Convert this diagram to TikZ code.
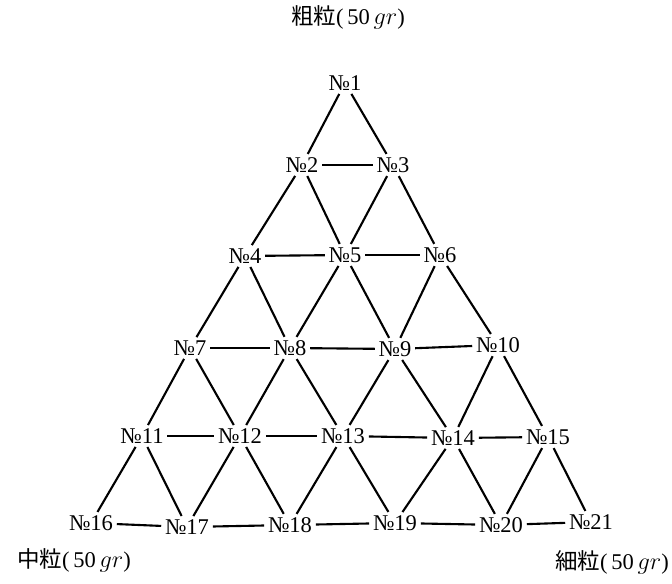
\documentclass[tikz,border=0pt]{standalone}
\usepackage{fontspec}
\setmainfont{Liberation Serif}
\newfontfamily\cjkfont{Noto Sans CJK JP}

\begin{document}
\begin{tikzpicture}[x=0.025cm, y=-0.025cm,
    no/.style={inner sep=1pt, font=\fontsize{16}{16}\selectfont},
    lbl/.style={inner sep=0pt, font=\fontsize{16}{16}\selectfont},
    link/.style={line width=1.5pt, shorten >=1.5pt, shorten <=1.5pt}]
      \useasboundingbox (0,0) rectangle (672,584);

      % titles of the three corners
      \node[lbl] (coarse) at (348,17) {{\cjkfont 粗粒}(\,50\,$gr$)};
      \node[lbl] (medium) at (74,560) {{\cjkfont 中粒}(\,50\,$gr$)};
      \node[lbl] (fine) at (612,562) {{\cjkfont 細粒}(\,50\,$gr$)};

      % mixtures
      \node[no] (n1) at (345,83) {№1};
      \node[no] (n2) at (302,165) {№2};
      \node[no] (n3) at (393,165) {№3};
      \node[no] (n4) at (245,256) {№4};
      \node[no] (n5) at (345,255) {№5};
      \node[no] (n6) at (440,255) {№6};
      \node[no] (n7) at (190,348) {№7};
      \node[no] (n8) at (290,348) {№8};
      \node[no] (n9) at (395,349) {№9};
      \node[no] (n10) at (498,345) {№10};
      \node[no] (n11) at (142,436) {№11};
      \node[no] (n12) at (240,436) {№12};
      \node[no] (n13) at (343,436) {№13};
      \node[no] (n14) at (453,438) {№14};
      \node[no] (n15) at (548,437) {№15};
      \node[no] (n16) at (91,523) {№16};
      \node[no] (n17) at (187,527) {№17};
      \node[no] (n18) at (290,525) {№18};
      \node[no] (n19) at (395,523) {№19};
      \node[no] (n20) at (501,525) {№20};
      \node[no] (n21) at (591,522) {№21};

      % horizontal links
      \foreach \a/\b in {2/3, 4/5, 5/6, 7/8, 8/9, 9/10, 11/12, 12/13, 13/14, 14/15,
                         16/17, 17/18, 18/19, 19/20, 20/21}
        \draw[link] (n\a) -- (n\b);

      % slanted links
      \foreach \a/\b/\c in {1/2/3, 2/4/5, 3/5/6, 4/7/8, 5/8/9, 6/9/10,
                            7/11/12, 8/12/13, 9/13/14, 10/14/15,
                            11/16/17, 12/17/18, 13/18/19, 14/19/20, 15/20/21}{
        \draw[link] (n\a) -- (n\b);
        \draw[link] (n\a) -- (n\c);
      }
    \end{tikzpicture}
\end{document}
